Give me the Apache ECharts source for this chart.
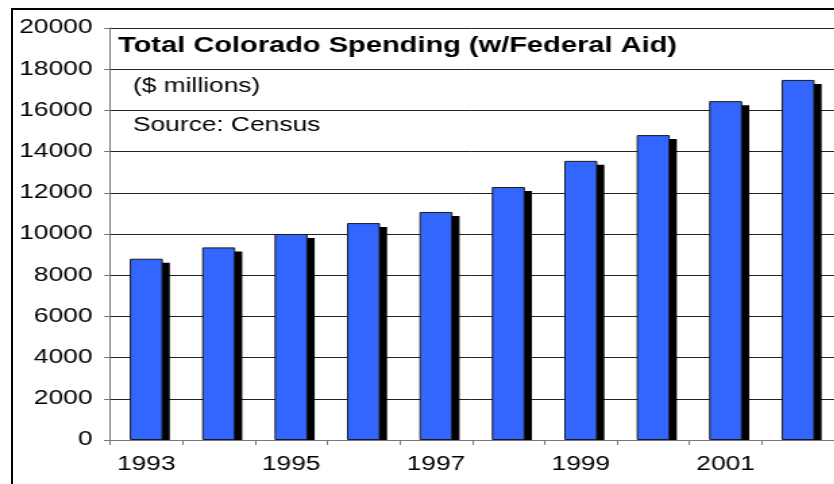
<!DOCTYPE html>
<html>
<head>
<meta charset="utf-8">
<script src="https://cdn.jsdelivr.net/npm/echarts@6/dist/echarts.min.js"></script>
<style>
  html, body { margin: 0; padding: 0; background: #fff; overflow: hidden; }
  #frame { position: absolute; left: 11px; top: 8px; width: 900px; height: 600px;
           border-left: 2px solid #000; border-top: 2px solid #000; }
  #chart { position: absolute; left: 0; top: 0; width: 618px; height: 484px;
           transform: scaleX(1.35); transform-origin: 0 0; }
</style>
</head>
<body>
<div id="frame"></div>
<div id="chart"></div>
<script>
// ---- data ----
const years = ['1993', '1994', '1995', '1996', '1997', '1998', '1999', '2000', '2001', '2002'];
const spending = [8800, 9350, 10000, 10530, 11070, 12280, 13550, 14800, 16450, 17480];
const titleText = 'Total Colorado Spending (w/Federal Aid)';
const unitText = '($ millions)';
const sourceText = 'Source: Census';

// ---- style ----
const FONT = "'Liberation Sans', Arial, sans-serif";
const BAR_W = 24.5;      // bar width (pre-stretch px)
const SH_X = 5.2;        // shadow offset x
const SH_Y = 4;          // shadow offset y

const chart = echarts.init(document.getElementById('chart'), null, { renderer: 'canvas' });

chart.setOption({
  backgroundColor: 'transparent',
  animation: false,
  grid: { left: 81.5, top: 28, width: 545.2, height: 412 },
  xAxis: {
    type: 'category',
    data: years,
    boundaryGap: true,
    axisLine: { show: true, lineStyle: { color: '#777', width: 1 } },
    axisTick: { show: true, interval: 0, length: 5, lineStyle: { color: '#777' } },
    axisLabel: { interval: 1, margin: 15, color: '#000', fontFamily: FONT, fontSize: 19.5 },
    splitLine: { show: false }
  },
  yAxis: {
    type: 'value',
    min: 0, max: 20000, interval: 2000,
    axisLine: { show: true, lineStyle: { color: '#777', width: 1 } },
    axisTick: { show: true, length: 4.5, lineStyle: { color: '#777' } },
    axisLabel: { margin: 13, color: '#000', fontFamily: FONT, fontSize: 19.5,
                 formatter: v => String(v) },
    splitLine: { show: true, lineStyle: { color: '#222', width: 1 } }
  },
  graphic: [
    { type: 'text', left: 87.4, top: 35, z: 10,
      style: { text: titleText, fill: '#000', font: "bold 21.5px " + FONT } },
    { type: 'text', left: 98.5, top: 77, z: 10,
      style: { text: unitText, fill: '#000', font: "19.5px " + FONT } },
    { type: 'text', left: 98.5, top: 116, z: 10,
      style: { text: sourceText, fill: '#000', font: "19.5px " + FONT } }
  ],
  series: [
    {
      type: 'custom',
      z: 2,
      clip: false,
      data: spending.map((v, i) => [i, v]),
      encode: { x: 0, y: 1 },
      renderItem: function (params, api) {
        const top = api.coord([api.value(0), api.value(1)]);
        const base = api.coord([api.value(0), 0]);
        return {
          type: 'rect',
          shape: { x: top[0] - BAR_W / 2 + SH_X, y: top[1] + SH_Y,
                   width: BAR_W, height: base[1] - top[1] - SH_Y },
          style: { fill: '#000' }
        };
      }
    },
    {
      type: 'bar',
      z: 3,
      data: spending,
      barWidth: BAR_W,
      itemStyle: { color: '#3366FF', borderColor: '#1a1a1a', borderWidth: 1 }
    }
  ]
});
</script>
</body>
</html>
